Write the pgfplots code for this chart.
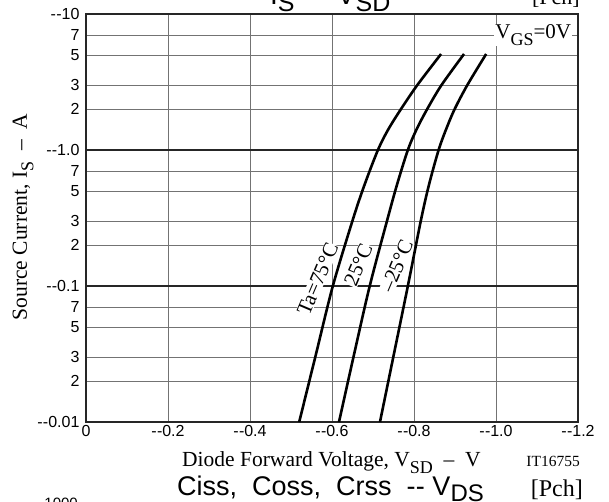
\documentclass[border=0pt]{standalone}
\usepackage{fontspec}
\setmainfont{Liberation Serif}
\setsansfont{Liberation Sans}
\usepackage{pgfplots}
\pgfplotsset{compat=1.18}

\newcommand{\dd}{-\kern0.3pt-}
\newcommand{\sub}[2]{\raisebox{-0.3em}{\fontsize{#1}{#1}\selectfont #2}}
\newcommand{\ssub}[2]{\raisebox{-0.22em}{\fontsize{#1}{#1}\selectfont #2}}

\begin{document}
\begin{tikzpicture}[x=1pt,y=1pt]
\path[use as bounding box] (0,0) rectangle (609,502);
\begin{axis}[
    at={(86pt,80pt)}, anchor=south west,
    scale only axis, width=492pt, height=408pt,
    xmin=0, xmax=1.2,
    ymode=log, ymin=0.01, ymax=10,
    xtick={0,0.2,0.4,0.6,0.8,1.0,1.2},
    xticklabels={0,\dd0.2,\dd0.4,\dd0.6,\dd0.8,\dd1.0,\dd1.2},
    ytick={0.01,0.02,0.03,0.05,0.07,0.1,0.2,0.3,0.5,0.7,1,2,3,5,7,10},
    yticklabels={\dd0.01,2,3,5,7,\dd0.1,2,3,5,7,\dd1.0,2,3,5,7,\dd10},
    extra y ticks={0.1,1},
    extra y tick labels={},
    extra y tick style={grid style={black!85, line width=1.1pt}},
    grid=major,
    grid style={black!55, line width=0.7pt},
    major tick length=0pt,
    axis line style={black!85, line width=1.4pt},
    tick label style={font=\sffamily\fontsize{16}{16}\selectfont},
    yticklabel style={xshift=-3pt},
    clip=false,
]
% Ta = 75 C
\addplot[black, line width=2.6pt, smooth] coordinates {
    (0.520,0.01) (0.561,0.0316) (0.602,0.1) (0.652,0.316) (0.680,0.562)
    (0.712,1) (0.737,1.413) (0.768,1.995) (0.808,3) (0.866,5.08)
};
% 25 C
\addplot[black, line width=2.6pt, smooth] coordinates {
    (0.617,0.01) (0.654,0.0316) (0.692,0.1) (0.736,0.316) (0.759,0.562)
    (0.785,1) (0.806,1.413) (0.832,1.995) (0.867,3) (0.922,5.08)
};
% -25 C
\addplot[black, line width=2.6pt, smooth] coordinates {
    (0.717,0.01) (0.751,0.0316) (0.785,0.1) (0.818,0.316) (0.837,0.562)
    (0.860,1) (0.878,1.413) (0.899,1.995) (0.930,3) (0.976,5.08)
};

\node[rotate=67, fill=white, inner sep=0.5pt, font=\fontsize{21}{21}\selectfont]
    at (axis cs:0.565,0.112) {Ta=75°C};
\node[rotate=67, fill=white, inner sep=0.5pt, font=\fontsize{21}{21}\selectfont]
    at (axis cs:0.664,0.143) {25°C};
\node[rotate=67, fill=white, inner sep=0.5pt, font=\fontsize{21}{21}\selectfont]
    at (axis cs:0.758,0.14) {–25°C};
\node[fill=white, inner sep=1pt, font=\fontsize{21}{21}\selectfont]
    at (axis cs:1.091,7) {V\sub{18}{GS}=0V};
\end{axis}

% y label
\node[rotate=90, font=\fontsize{21.5}{21.5}\selectfont] at (23,285)
    {Source Current, I\sub{18}{S} \ – \ A};
% x label and figure number
\node[anchor=base west, inner sep=0, font=\fontsize{21.5}{21.5}\selectfont] at (182,35)
    {Diode Forward Voltage, V\sub{18}{SD} \ – \ V};
\node[anchor=base east, inner sep=0, font=\fontsize{15.5}{15.5}\selectfont] at (580,35) {IT16755};

% next chart title (cut at the bottom)
\node[anchor=base west, inner sep=0, font=\sffamily\fontsize{27}{27}\selectfont] at (177,6)
    {Ciss,\ \ Coss,\ \ Crss \ \dd\ V\ssub{24}{DS}};
\node[anchor=base east, inner sep=0, font=\fontsize{24}{24}\selectfont] at (583,5) {[Pch]};
\node[anchor=base east, inner sep=0, font=\sffamily\fontsize{15}{15}\selectfont] at (78,-7) {1000};

% this chart title (cut at the top)
\node[anchor=base west, inner sep=0, font=\sffamily\fontsize{28}{28}\selectfont] at (270,497)
    {I\ssub{25}{S} \ \dd\ V\ssub{25}{SD}};
\node[anchor=base east, inner sep=0, font=\fontsize{22}{22}\selectfont] at (580,497) {[Pch]};
\end{tikzpicture}
\end{document}
